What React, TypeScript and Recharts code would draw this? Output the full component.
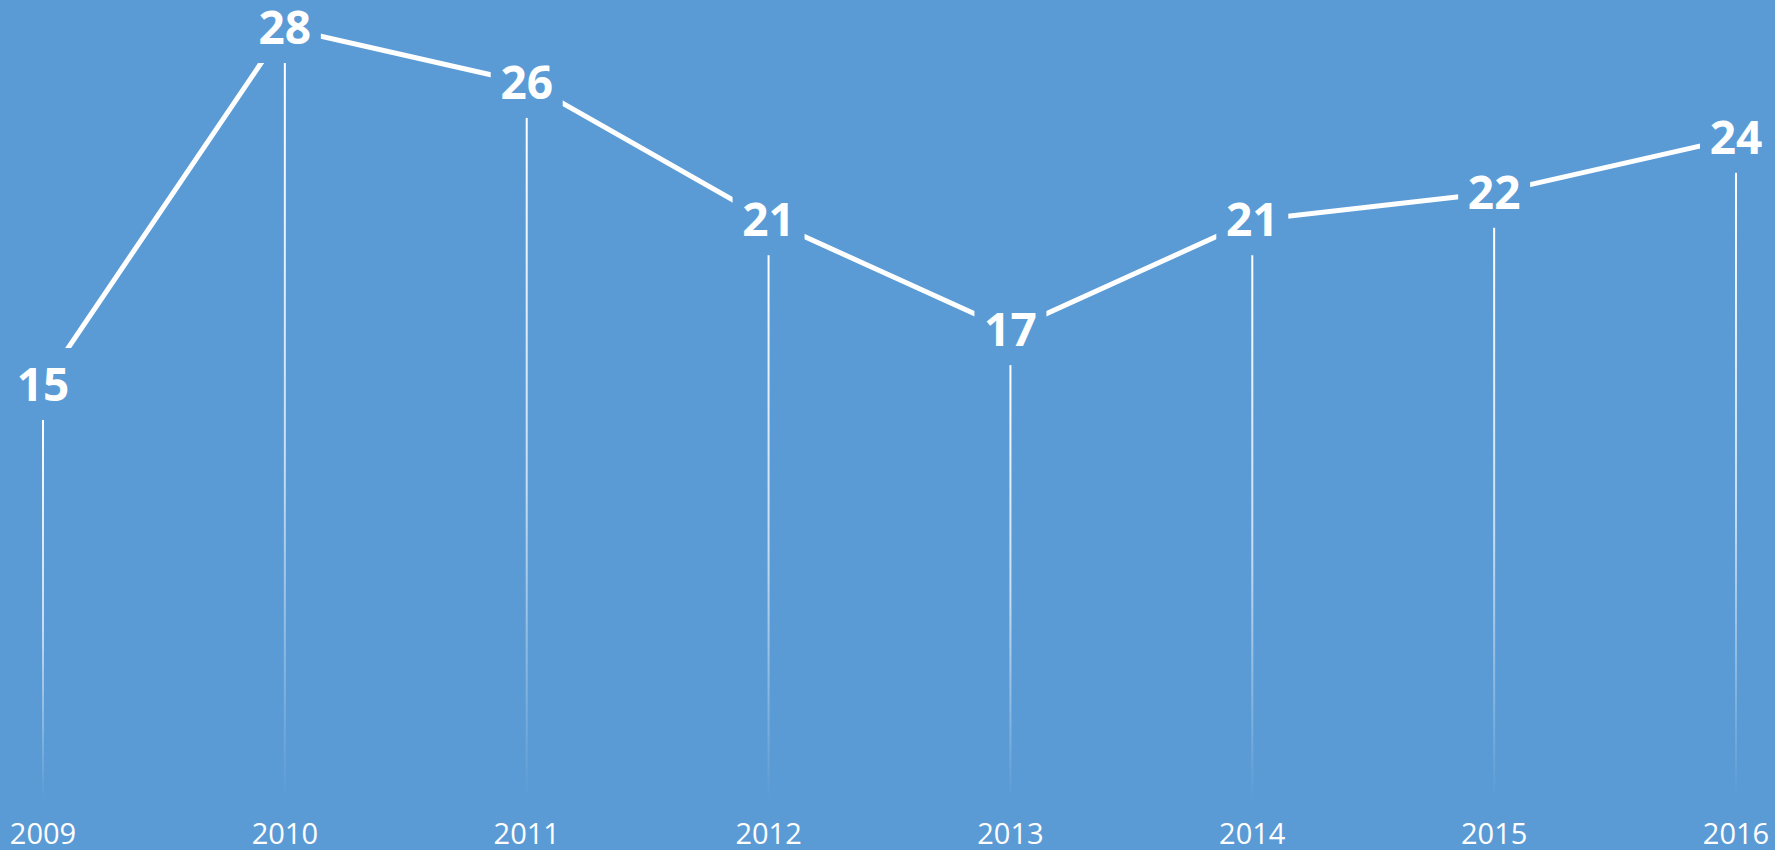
import React from "react";
import { LineChart, Line, XAxis, YAxis, LabelList } from "recharts";

const years = ["2009", "2010", "2011", "2012", "2013", "2014", "2015", "2016"];
const values = [15, 28, 26, 21, 17, 21, 22, 24];

const BG = "#5B9BD5";
const W = 1775;
const H = 850;
const MARGIN = { top: 28, right: 39, bottom: 0, left: 43 };
const AXIS_H = 53;
const PLOT_BOTTOM = H - MARGIN.bottom - AXIS_H;

const data = years.map((year, i) => ({ year, value: values[i] }));

// vertical drop line under each point, fading out towards the axis
const DropDot = (props: any) => {
  const { cx, cy, index } = props;
  if (cx == null || cy == null) return <g key={`d-${index}`} />;
  const top = cy + 34;
  return (
    <rect
      key={`d-${index}`}
      x={cx - 1}
      y={top}
      width={2}
      height={Math.max(0, PLOT_BOTTOM - top)}
      fill="url(#dropFade)"
    />
  );
};

// label with a box in the background colour so the line breaks around it
const ValueLabel = (props: any) => {
  const { x, y, value } = props;
  return (
    <g>
      <rect x={x - 36} y={y - 37} width={72} height={72} fill={BG} />
      <text
        x={x}
        y={y + 16}
        textAnchor="middle"
        fill="#ffffff"
        fontSize={46}
        fontWeight={700}
        fontFamily="'Open Sans', sans-serif"
      >
        {value}
      </text>
    </g>
  );
};

const YearTick = (props: any) => {
  const { x, y, payload } = props;
  return (
    <text
      x={x}
      y={y + 39}
      textAnchor="middle"
      fill="#ffffff"
      fontSize={29}
      fontFamily="'Open Sans', sans-serif"
    >
      {payload.value}
    </text>
  );
};

export default function App() {
  return (
    <div style={{ width: W, height: H, background: BG }}>
      <style>{"body{margin:0}"}</style>
      <LineChart width={W} height={H} data={data} margin={MARGIN}>
        <defs>
          <linearGradient id="dropFade" x1="0" y1="0" x2="0" y2="1">
            <stop offset="0%" stopColor="#ffffff" stopOpacity={1} />
            <stop offset="55%" stopColor="#ffffff" stopOpacity={0.65} />
            <stop offset="100%" stopColor="#ffffff" stopOpacity={0} />
          </linearGradient>
        </defs>
        <XAxis
          dataKey="year"
          axisLine={false}
          tickLine={false}
          height={AXIS_H}
          interval={0}
          tick={<YearTick />}
        />
        <YAxis hide domain={[0, 28]} />
        <Line
          type="linear"
          dataKey="value"
          stroke="#ffffff"
          strokeWidth={5}
          dot={<DropDot />}
          activeDot={false}
          isAnimationActive={false}
        >
          <LabelList dataKey="value" content={<ValueLabel />} />
        </Line>
      </LineChart>
    </div>
  );
}
